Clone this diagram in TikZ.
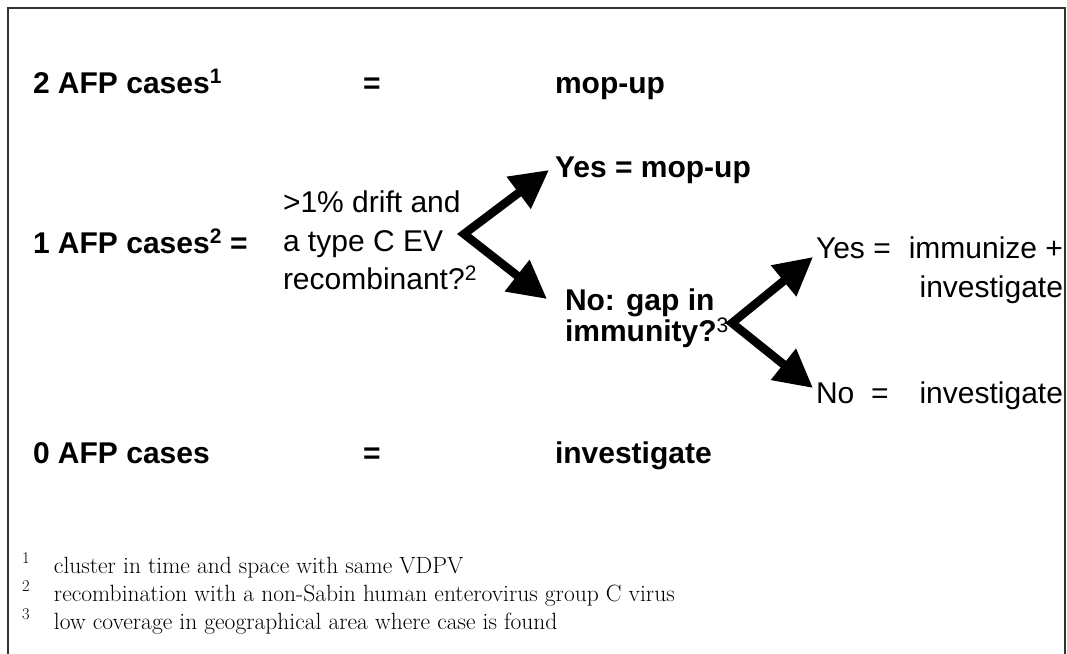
\documentclass[tikz,border=0pt]{standalone}
\usepackage{fontspec}
\newfontfamily\arial{Liberation Sans}
\usetikzlibrary{positioning, arrows.meta}

\begin{document}
\begin{tikzpicture}[x=1pt, y=-1pt,
  every node/.style={inner sep=0pt, outer sep=0pt},
  big/.style={font=\arial\bfseries\fontsize{30}{38}\selectfont},
  txt/.style={font=\arial\fontsize{30}{38.5}\selectfont},
  note/.style={font=\fontsize{23.5}{28}\selectfont},
  fork/.style={line width=8.5pt, line join=miter,
    {Triangle[length=38pt,width=38pt]}-{Triangle[length=38pt,width=38pt]}}]
  \useasboundingbox (0,0) rectangle (1067,653);
  \draw[line width=1.3pt, black!80] (8,660) -- (8,8) -- (1065,8) -- (1065,660);

  % left column
  \node[big, anchor=base west] (two) at (33,93) {2 AFP cases\textsuperscript{1}};
  \node[big, anchor=base west] (one) at (33,253) {1 AFP cases\textsuperscript{2}};
  \node[big, anchor=base west] (zero) at (33,463) {0 AFP cases};
  \node[big, anchor=base] (eq2) at (372,93) {=};
  \node[big, anchor=base] (eq1) at (239,253) {=};
  \node[big, anchor=base] (eq0) at (372,463) {=};
  \node[big, anchor=base west] (mop) at (555,93) {mop-up};
  \node[big, anchor=base west] (inv) at (555,463) {investigate};

  % first fork
  \node[txt, align=left, anchor=north west] (drift) at (283,191)
    {>1\% drift and\\a type C EV\\recombinant?\textsuperscript{2}};
  \coordinate (v1) at (464,234);
  \coordinate (y1) at (549,170);
  \coordinate (n1) at (547,299);
  \draw[fork] (y1) -- (v1) -- (n1);
  \node[big, anchor=base west] (yesmop) at (555,177) {Yes = mop-up};
  \node[big, align=left, anchor=north west, font=\arial\bfseries\fontsize{30}{30.5}\selectfont]
    (gap) at (565,289) {No: gap in\\immunity?\textsuperscript{\mdseries 3}};

  % second fork
  \coordinate (v2) at (732,323);
  \coordinate (y2) at (813,257);
  \coordinate (n2) at (813,388);
  \draw[fork] (y2) -- (v2) -- (n2);
  \node[txt, align=right, anchor=north east] (yesimm) at (1063,237)
    {\makebox[247pt]{Yes =\hfill immunize +}\\investigate};
  \node[txt, anchor=base west] (noinv) at (816,403)
    {\makebox[247pt]{No\ \ =\hfill investigate}};

  % footnotes
  \node[note, anchor=base west] (fn1) at (22,573)
    {\makebox[32pt][l]{\textsuperscript{1}}cluster in time and space with same VDPV};
  \node[note, anchor=base west] (fn2) at (22,601)
    {\makebox[32pt][l]{\textsuperscript{2}}recombination with a non-Sabin human enterovirus group C virus};
  \node[note, anchor=base west] (fn3) at (22,629)
    {\makebox[32pt][l]{\textsuperscript{3}}low coverage in geographical area where case is found};
\end{tikzpicture}
\end{document}
